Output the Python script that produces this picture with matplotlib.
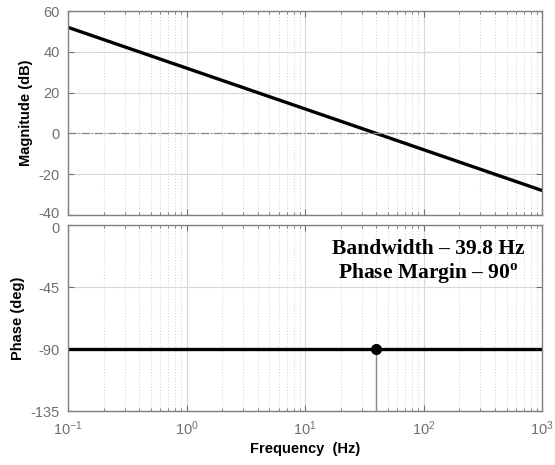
import matplotlib
matplotlib.use("Agg")
import matplotlib.pyplot as plt
from matplotlib.ticker import LogLocator, NullFormatter
from matplotlib.transforms import ScaledTranslation

# data
freq_mag = [0.1, 1000]
mag_db = [52, -28]
freq_phase = [0.1, 1000]
phase_deg = [-90, -90]
f_cross = 39.8
pm_phase = -90

plt.rcParams['font.family'] = ['Liberation Sans', 'DejaVu Sans']
plt.rcParams['axes.unicode_minus'] = False
plt.rcParams['mathtext.fontset'] = 'custom'
plt.rcParams['mathtext.rm'] = 'Liberation Sans'
plt.rcParams['mathtext.bf'] = 'Liberation Serif:bold'

tick_gray = '#707070'
grid_gray = '#d8d8d8'

fig = plt.figure(figsize=(5.55, 4.65), dpi=100)
ax1 = fig.add_axes([0.1225, 0.5376, 0.8545, 0.4387])
ax2 = fig.add_axes([0.1225, 0.1161, 0.8545, 0.3999])


def style(ax):
    ax.set_xscale('log')
    ax.set_xlim(0.1, 1000)
    ax.xaxis.set_major_locator(LogLocator(base=10, numticks=10))
    ax.xaxis.set_minor_locator(LogLocator(base=10, subs=range(2, 10), numticks=10))
    ax.xaxis.set_minor_formatter(NullFormatter())
    ax.grid(True, which='major', color=grid_gray, lw=0.8, ls='-')
    ax.grid(True, which='minor', color=grid_gray, lw=0.8, ls=':')
    ax.tick_params(which='both', direction='in', top=True, right=True,
                   colors=tick_gray, labelsize=10.5)
    ax.tick_params(which='major', length=4, pad=6)
    ax.tick_params(which='minor', length=2)
    for s in ax.spines.values():
        s.set_color('#808080')
        s.set_linewidth(1.0)
    ax.set_axisbelow(True)


style(ax1)
ax1.plot(freq_mag, mag_db, color='black', lw=2.4)
ax1.axhline(0, color='#888888', lw=0.9, ls='-.')
ax1.set_ylim(-40, 60)
ax1.set_yticks([-40, -20, 0, 20, 40, 60])
ax1.tick_params(axis='x', labelbottom=False)
ax1.set_ylabel('Magnitude (dB)', fontsize=10.5, fontweight='bold')

style(ax2)
ax2.plot(freq_phase, phase_deg, color='black', lw=2.4)
ax2.vlines(f_cross, -135, pm_phase, color='#888888', lw=1.0)
ax2.plot([f_cross], [pm_phase], 'o', color='black', ms=7)
ax2.set_ylim(-135, 0)
ax2.set_yticks([-135, -90, -45, 0])
ax2.set_ylabel('Phase (deg)', fontsize=10.5, fontweight='bold')
ax2.set_xlabel('Frequency  (Hz)', fontsize=10.5, fontweight='bold', labelpad=3)
ax2.text(0.759, 0.80, 'Bandwidth \u2013 39.8 Hz\nPhase Margin \u2013 90$^{\\mathbf{o}}$',
         transform=ax2.transAxes, ha='center', va='center',
         fontsize=15.5, fontweight='bold', family=['Liberation Serif', 'DejaVu Serif'],
         linespacing=1.15)

# nudge the two stacked labels (-40 and 0) apart a little
lab_bot = ax1.get_yticklabels()[0]
lab_bot.set_transform(lab_bot.get_transform() + ScaledTranslation(0, 2 / 72, fig.dpi_scale_trans))
lab_top = ax2.get_yticklabels()[-1]
lab_top.set_transform(lab_top.get_transform() + ScaledTranslation(0, -2 / 72, fig.dpi_scale_trans))

fig.savefig('out.png', dpi=100)
